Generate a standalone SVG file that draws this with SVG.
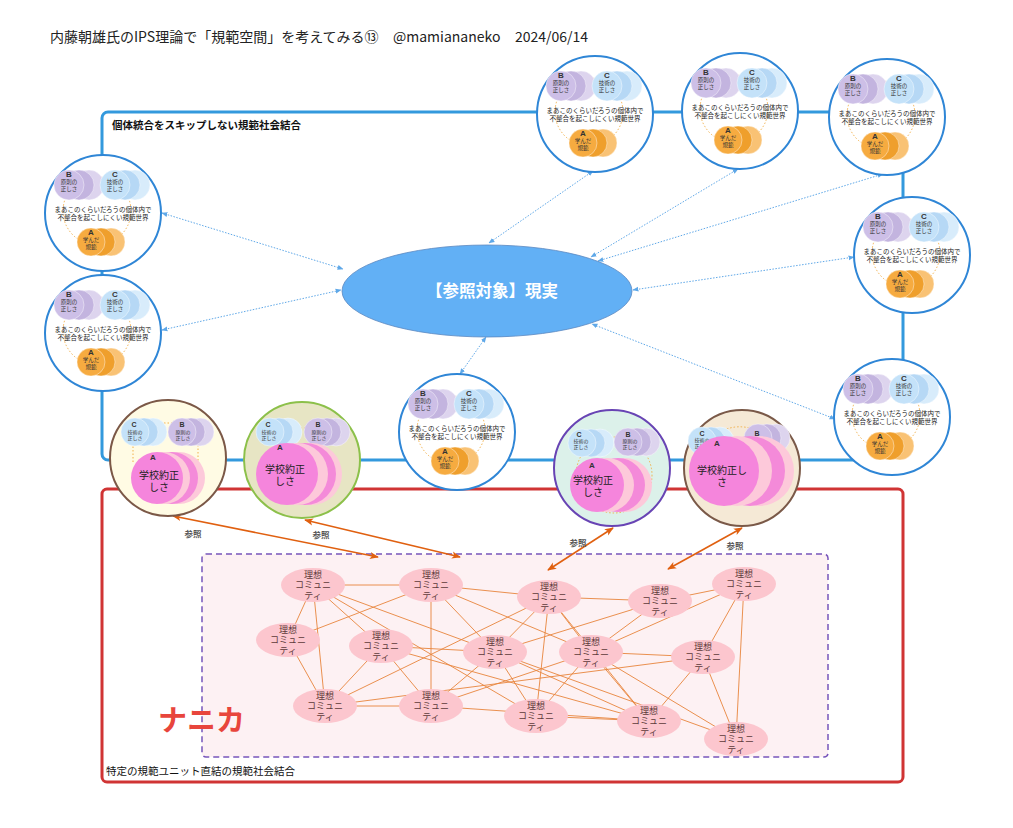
<svg xmlns="http://www.w3.org/2000/svg" width="1013" height="828" viewBox="0 0 1013 828">
<style>
text{font-family:"Liberation Sans","Noto Sans CJK JP",sans-serif}
.ttl{font-family:"Noto Sans CJK JP","Noto Sans",sans-serif;font-size:14px;fill:#222}
.nw{fill:#fff;stroke:#2f86d6;stroke-width:2}
.dot{fill:none;stroke:#f2b04a;stroke-width:1;stroke-dasharray:1.5 2}
.lab{font-size:8px;font-weight:bold;text-anchor:middle;fill:#333}
.sm{font-size:5.5px;text-anchor:middle;fill:#333}
.xs{font-size:5px;text-anchor:middle;fill:#333}
.l7{font-size:7px;font-weight:bold}
.mid{font-size:6.5px;text-anchor:middle;fill:#1a1a1a}
.stk circle{stroke:#fff;stroke-width:0.6;stroke-opacity:0.7}
.cm ellipse{fill:#fcc6ce}
.cm text{font-size:9px;text-anchor:middle;fill:#5d3a3a}
.edge line{stroke:#e8843c;stroke-width:0.9}
.ref{stroke:#e06010;stroke-width:1.6;fill:none;marker-start:url(#ao);marker-end:url(#ao)}
.bl{stroke:#5fa8e8;stroke-width:1;stroke-dasharray:1.5 1.5;fill:none;marker-start:url(#ab);marker-end:url(#ab)}
.sch{font-size:10px;text-anchor:middle;fill:#222}
.pk1{fill:#f585dc}.pk2{fill:#fdc9da}.pk3{fill:#f48ad9}
.cap{font-size:10.5px;fill:#111}
.sanshou{font-size:8.5px;font-weight:bold;text-anchor:middle;fill:#555}
</style>
<defs>
<marker id="ao" viewBox="0 0 10 10" refX="9" refY="5" markerUnits="userSpaceOnUse" markerWidth="9" markerHeight="9" orient="auto-start-reverse"><path d="M0,1 L10,5 L0,9 L2.5,5 z" fill="#e06010"/></marker>
<marker id="ab" viewBox="0 0 10 10" refX="9" refY="5" markerUnits="userSpaceOnUse" markerWidth="6" markerHeight="6" orient="auto-start-reverse"><path d="M0,1 L10,5 L0,9 z" fill="#5fa8e8"/></marker>
<g id="sB" class="stk"><circle cx="20" r="15" fill="#ddd4ee"/><circle cx="10" r="15" fill="#c3b4df"/><circle r="15" fill="#cdbfe7"/></g>
<g id="sC" class="stk"><circle cx="20" r="15" fill="#d8ecfb"/><circle cx="10" r="15" fill="#b6d8f5"/><circle r="15" fill="#c4e2f9"/></g>
<g id="sA" class="stk"><circle cx="20" r="14" fill="#f9c274"/><circle cx="10" r="14" fill="#ef9f2c"/><circle r="14" fill="#f6ab40"/></g>
<g id="sB2" class="stk"><circle cx="18" r="14" fill="#ddd4ee"/><circle cx="9" r="14" fill="#c3b4df"/><circle r="14" fill="#cdbfe7"/></g>
<g id="sC2" class="stk"><circle cx="18" r="14" fill="#d8ecfb"/><circle cx="9" r="14" fill="#b6d8f5"/><circle r="14" fill="#c4e2f9"/></g>
</defs>
<rect width="1013" height="828" fill="#fff"/>
<text class="ttl" x="50" y="42">内藤朝雄氏のIPS理論で「規範空間」を考えてみる⑬</text>
<text class="ttl" x="393" y="42">@mamiananeko</text>
<text class="ttl" x="515" y="42">2024/06/14</text>

<g id="frames">
<rect x="102" y="112" width="801" height="348" rx="6" fill="none" stroke="#3399dd" stroke-width="3"/>
<rect x="102" y="489" width="801" height="293" rx="5" fill="#fff" stroke="#d03434" stroke-width="3"/>
<rect x="202" y="554" width="626" height="203" rx="4" fill="#fdf1f3" stroke="#7755bb" stroke-width="1.5" stroke-dasharray="6 4"/>
<text class="cap" x="112" y="129" font-weight="bold">個体統合をスキップしない規範社会結合</text>
<text class="cap" x="106" y="775">特定の規範ユニット直結の規範社会結合</text>
<text x="158" y="731" font-size="29" font-weight="bold" fill="#e8453c">ナニカ</text>
</g>

<g id="connectors">
<g class="edge">
<line x1="313" y1="585" x2="431" y2="585"/><line x1="313" y1="585" x2="288" y2="640"/><line x1="313" y1="585" x2="325" y2="706"/>
<line x1="313" y1="585" x2="381" y2="646"/><line x1="313" y1="585" x2="495" y2="652"/><line x1="313" y1="585" x2="536" y2="716"/>
<line x1="431" y1="585" x2="288" y2="640"/><line x1="431" y1="585" x2="431" y2="706"/><line x1="431" y1="585" x2="495" y2="652"/>
<line x1="431" y1="585" x2="549" y2="597"/><line x1="431" y1="585" x2="591" y2="652"/>
<line x1="288" y1="640" x2="325" y2="706"/><line x1="381" y1="646" x2="325" y2="706"/><line x1="381" y1="646" x2="431" y2="706"/>
<line x1="381" y1="646" x2="495" y2="652"/><line x1="381" y1="646" x2="649" y2="721"/>
<line x1="325" y1="706" x2="431" y2="706"/><line x1="325" y1="706" x2="549" y2="597"/><line x1="325" y1="706" x2="703" y2="657"/>
<line x1="431" y1="706" x2="495" y2="652"/><line x1="431" y1="706" x2="591" y2="652"/><line x1="431" y1="706" x2="649" y2="721"/>
<line x1="549" y1="597" x2="660" y2="601"/><line x1="549" y1="597" x2="591" y2="652"/><line x1="549" y1="597" x2="649" y2="721"/>
<line x1="549" y1="597" x2="536" y2="716"/><line x1="549" y1="597" x2="495" y2="652"/>
<line x1="660" y1="601" x2="744" y2="584"/><line x1="660" y1="601" x2="495" y2="652"/><line x1="660" y1="601" x2="591" y2="652"/>
<line x1="744" y1="584" x2="703" y2="657"/><line x1="744" y1="584" x2="591" y2="652"/><line x1="744" y1="584" x2="736" y2="739"/>
<line x1="703" y1="657" x2="649" y2="721"/><line x1="703" y1="657" x2="736" y2="739"/><line x1="591" y1="652" x2="736" y2="739"/>
<line x1="591" y1="652" x2="703" y2="657"/><line x1="591" y1="652" x2="649" y2="721"/><line x1="591" y1="652" x2="536" y2="716"/>
<line x1="536" y1="716" x2="649" y2="721"/><line x1="495" y1="652" x2="649" y2="721"/><line x1="495" y1="652" x2="736" y2="739"/>
<line x1="495" y1="652" x2="536" y2="716"/>
</g>
<line class="ref" x1="173" y1="516" x2="378" y2="557"/>
<line class="ref" x1="305" y1="520" x2="460" y2="557"/>
<line class="ref" x1="613" y1="528" x2="548" y2="570"/>
<line class="ref" x1="742" y1="528" x2="668" y2="569"/>
<line class="bl" x1="593" y1="171" x2="489" y2="243"/>
<line class="bl" x1="738" y1="169" x2="591" y2="257"/>
<line class="bl" x1="883" y1="174" x2="598" y2="261"/>
<line class="bl" x1="162" y1="213" x2="343" y2="269"/>
<line class="bl" x1="162" y1="330" x2="341" y2="290"/>
<line class="bl" x1="854" y1="257" x2="633" y2="290"/>
<line class="bl" x1="460" y1="374" x2="486" y2="337"/>
<line class="bl" x1="835" y1="419" x2="592" y2="324"/>
<text class="sanshou" x="193" y="537">参照</text>
<text class="sanshou" x="321" y="538">参照</text>
<text class="sanshou" x="578" y="546">参照</text>
<text class="sanshou" x="735" y="549">参照</text>
</g>

<g id="reality">
<ellipse cx="487" cy="291" rx="145" ry="46" fill="#62b0f5" stroke="#5a88c0" stroke-width="0.8"/>
<text x="492" y="297" font-size="16.5" font-weight="bold" fill="#fff" text-anchor="middle">【参照対象】現実</text>
</g>

<g id="nw1" transform="translate(595,114)"><circle r="58" class="nw"/><circle cx="-6" cy="-2" r="34" class="dot"/><use href="#sB" x="-34" y="-28"/><use href="#sC" x="12" y="-28"/><use href="#sA" x="-12" y="29"/><text class="sm"><tspan class="lab" x="-34" y="-36">B</tspan><tspan x="-34" y="-29">原則の</tspan><tspan x="-34" y="-22.5">正しさ</tspan></text><text class="sm"><tspan class="lab" x="12" y="-36">C</tspan><tspan x="12" y="-29">技術の</tspan><tspan x="12" y="-22.5">正しさ</tspan></text><text class="mid"><tspan x="0" y="-1">まあこのくらいだろうの個体内で</tspan><tspan x="0" y="7">不整合を起こしにくい規範世界</tspan></text><text class="sm"><tspan class="lab" x="-12" y="22">A</tspan><tspan x="-12" y="29">学んだ</tspan><tspan x="-12" y="35.5">規範</tspan></text></g>
<g id="nw2" transform="translate(740,111)"><circle r="58" class="nw"/><circle cx="-6" cy="-2" r="34" class="dot"/><use href="#sB" x="-34" y="-28"/><use href="#sC" x="12" y="-28"/><use href="#sA" x="-12" y="29"/><text class="sm"><tspan class="lab" x="-34" y="-36">B</tspan><tspan x="-34" y="-29">原則の</tspan><tspan x="-34" y="-22.5">正しさ</tspan></text><text class="sm"><tspan class="lab" x="12" y="-36">C</tspan><tspan x="12" y="-29">技術の</tspan><tspan x="12" y="-22.5">正しさ</tspan></text><text class="mid"><tspan x="0" y="-1">まあこのくらいだろうの個体内で</tspan><tspan x="0" y="7">不整合を起こしにくい規範世界</tspan></text><text class="sm"><tspan class="lab" x="-12" y="22">A</tspan><tspan x="-12" y="29">学んだ</tspan><tspan x="-12" y="35.5">規範</tspan></text></g>
<g id="nw3" transform="translate(887,117)"><circle r="58" class="nw"/><circle cx="-6" cy="-2" r="34" class="dot"/><use href="#sB" x="-34" y="-28"/><use href="#sC" x="12" y="-28"/><use href="#sA" x="-12" y="29"/><text class="sm"><tspan class="lab" x="-34" y="-36">B</tspan><tspan x="-34" y="-29">原則の</tspan><tspan x="-34" y="-22.5">正しさ</tspan></text><text class="sm"><tspan class="lab" x="12" y="-36">C</tspan><tspan x="12" y="-29">技術の</tspan><tspan x="12" y="-22.5">正しさ</tspan></text><text class="mid"><tspan x="0" y="-1">まあこのくらいだろうの個体内で</tspan><tspan x="0" y="7">不整合を起こしにくい規範世界</tspan></text><text class="sm"><tspan class="lab" x="-12" y="22">A</tspan><tspan x="-12" y="29">学んだ</tspan><tspan x="-12" y="35.5">規範</tspan></text></g>
<g id="nw4" transform="translate(103,213)"><circle r="58" class="nw"/><circle cx="-6" cy="-2" r="34" class="dot"/><use href="#sB" x="-34" y="-28"/><use href="#sC" x="12" y="-28"/><use href="#sA" x="-12" y="29"/><text class="sm"><tspan class="lab" x="-34" y="-36">B</tspan><tspan x="-34" y="-29">原則の</tspan><tspan x="-34" y="-22.5">正しさ</tspan></text><text class="sm"><tspan class="lab" x="12" y="-36">C</tspan><tspan x="12" y="-29">技術の</tspan><tspan x="12" y="-22.5">正しさ</tspan></text><text class="mid"><tspan x="0" y="-1">まあこのくらいだろうの個体内で</tspan><tspan x="0" y="7">不整合を起こしにくい規範世界</tspan></text><text class="sm"><tspan class="lab" x="-12" y="22">A</tspan><tspan x="-12" y="29">学んだ</tspan><tspan x="-12" y="35.5">規範</tspan></text></g>
<g id="nw5" transform="translate(103,333)"><circle r="58" class="nw"/><circle cx="-6" cy="-2" r="34" class="dot"/><use href="#sB" x="-34" y="-28"/><use href="#sC" x="12" y="-28"/><use href="#sA" x="-12" y="29"/><text class="sm"><tspan class="lab" x="-34" y="-36">B</tspan><tspan x="-34" y="-29">原則の</tspan><tspan x="-34" y="-22.5">正しさ</tspan></text><text class="sm"><tspan class="lab" x="12" y="-36">C</tspan><tspan x="12" y="-29">技術の</tspan><tspan x="12" y="-22.5">正しさ</tspan></text><text class="mid"><tspan x="0" y="-1">まあこのくらいだろうの個体内で</tspan><tspan x="0" y="7">不整合を起こしにくい規範世界</tspan></text><text class="sm"><tspan class="lab" x="-12" y="22">A</tspan><tspan x="-12" y="29">学んだ</tspan><tspan x="-12" y="35.5">規範</tspan></text></g>
<g id="nw6" transform="translate(912,255)"><circle r="58" class="nw"/><circle cx="-6" cy="-2" r="34" class="dot"/><use href="#sB" x="-34" y="-28"/><use href="#sC" x="12" y="-28"/><use href="#sA" x="-12" y="29"/><text class="sm"><tspan class="lab" x="-34" y="-36">B</tspan><tspan x="-34" y="-29">原則の</tspan><tspan x="-34" y="-22.5">正しさ</tspan></text><text class="sm"><tspan class="lab" x="12" y="-36">C</tspan><tspan x="12" y="-29">技術の</tspan><tspan x="12" y="-22.5">正しさ</tspan></text><text class="mid"><tspan x="0" y="-1">まあこのくらいだろうの個体内で</tspan><tspan x="0" y="7">不整合を起こしにくい規範世界</tspan></text><text class="sm"><tspan class="lab" x="-12" y="22">A</tspan><tspan x="-12" y="29">学んだ</tspan><tspan x="-12" y="35.5">規範</tspan></text></g>
<g id="nw7" transform="translate(457,432)"><circle r="58" class="nw"/><circle cx="-6" cy="-2" r="34" class="dot"/><use href="#sB" x="-34" y="-28"/><use href="#sC" x="12" y="-28"/><use href="#sA" x="-12" y="29"/><text class="sm"><tspan class="lab" x="-34" y="-36">B</tspan><tspan x="-34" y="-29">原則の</tspan><tspan x="-34" y="-22.5">正しさ</tspan></text><text class="sm"><tspan class="lab" x="12" y="-36">C</tspan><tspan x="12" y="-29">技術の</tspan><tspan x="12" y="-22.5">正しさ</tspan></text><text class="mid"><tspan x="0" y="-1">まあこのくらいだろうの個体内で</tspan><tspan x="0" y="7">不整合を起こしにくい規範世界</tspan></text><text class="sm"><tspan class="lab" x="-12" y="22">A</tspan><tspan x="-12" y="29">学んだ</tspan><tspan x="-12" y="35.5">規範</tspan></text></g>
<g id="nw8" transform="translate(892,417)"><circle r="58" class="nw"/><circle cx="-6" cy="-2" r="34" class="dot"/><use href="#sB" x="-34" y="-28"/><use href="#sC" x="12" y="-28"/><use href="#sA" x="-12" y="29"/><text class="sm"><tspan class="lab" x="-34" y="-36">B</tspan><tspan x="-34" y="-29">原則の</tspan><tspan x="-34" y="-22.5">正しさ</tspan></text><text class="sm"><tspan class="lab" x="12" y="-36">C</tspan><tspan x="12" y="-29">技術の</tspan><tspan x="12" y="-22.5">正しさ</tspan></text><text class="mid"><tspan x="0" y="-1">まあこのくらいだろうの個体内で</tspan><tspan x="0" y="7">不整合を起こしにくい規範世界</tspan></text><text class="sm"><tspan class="lab" x="-12" y="22">A</tspan><tspan x="-12" y="29">学んだ</tspan><tspan x="-12" y="35.5">規範</tspan></text></g>

<g id="school1">
<circle cx="168" cy="458" r="58" fill="#fffbe4" stroke="#7b5847" stroke-width="2"/>
<path d="M133,462 V423 H198 V462" class="dot"/>
<use href="#sC2" x="135" y="432"/><use href="#sB2" x="182" y="432"/>
<text class="xs"><tspan class="lab l7" x="134" y="427">C</tspan><tspan x="135" y="434">技術の</tspan><tspan x="135" y="440">正しさ</tspan></text>
<text class="xs"><tspan class="lab l7" x="182" y="427">B</tspan><tspan x="183" y="434">原則の</tspan><tspan x="183" y="440">正しさ</tspan></text>
<circle cx="179" cy="478" r="26" class="pk2"/><circle cx="172" cy="478" r="26" class="pk3"/><circle cx="164" cy="478" r="26" class="pk2"/><circle cx="157" cy="478" r="26" class="pk1"/>
<text class="lab" x="153" y="460">A</text>
<text class="sch"><tspan x="159" y="479">学校約正</tspan><tspan x="159" y="490.5">しさ</tspan></text>
</g>
<g id="school2">
<circle cx="302" cy="460" r="58" fill="#e7e5c4" stroke="#8cc04a" stroke-width="2"/>
<path d="M283,428 H306" class="dot"/>
<use href="#sC2" x="270" y="432"/><use href="#sB2" x="318" y="432"/>
<text class="xs"><tspan class="lab l7" x="268" y="427">C</tspan><tspan x="269" y="434">技術の</tspan><tspan x="269" y="440">正しさ</tspan></text>
<text class="xs"><tspan class="lab l7" x="318" y="427">B</tspan><tspan x="319" y="434">原則の</tspan><tspan x="319" y="440">正しさ</tspan></text>
<circle cx="311" cy="474" r="31" class="pk2"/><circle cx="305" cy="474" r="31" class="pk3"/><circle cx="297" cy="474" r="31" class="pk2"/><circle cx="287" cy="474" r="31" class="pk1"/>
<text class="lab" x="280" y="450">A</text>
<text class="sch" font-size="10.5"><tspan x="285" y="473">学校約正</tspan><tspan x="285" y="485">しさ</tspan></text>
</g>
<g id="school3">
<circle cx="612" cy="468" r="58" fill="#dcf1ea" stroke="#6844b4" stroke-width="2"/>
<circle cx="614" cy="475" r="38" class="dot"/>
<use href="#sC2" x="582" y="443"/><use href="#sB2" x="628" y="442"/>
<text class="xs"><tspan class="lab l7" x="579" y="437">C</tspan><tspan x="581" y="443">技術の</tspan><tspan x="581" y="449">正しさ</tspan></text>
<text class="xs"><tspan class="lab l7" x="628" y="437">B</tspan><tspan x="630" y="443">原則の</tspan><tspan x="630" y="449">正しさ</tspan></text>
<circle cx="625" cy="485" r="27" class="pk2"/><circle cx="618" cy="485" r="27" class="pk3"/><circle cx="607" cy="485" r="27" class="pk2"/><circle cx="597" cy="485" r="27" class="pk1"/>
<text class="lab" x="592" y="468">A</text>
<text class="sch"><tspan x="593" y="484">学校約正</tspan><tspan x="593" y="495.5">しさ</tspan></text>
</g>
<g id="school4">
<circle cx="742" cy="468" r="58" fill="#f5e9d6" stroke="#7a5948" stroke-width="2"/>
<path d="M712,438 A 40 40 0 0 1 778,455" class="dot"/>
<use href="#sC2" x="702" y="441"/><use href="#sB2" x="758" y="438"/>
<text class="xs"><tspan class="lab l7" x="702" y="436">C</tspan><tspan x="702" y="442">技術の</tspan><tspan x="702" y="448">正しさ</tspan></text>
<text class="lab l7" x="757" y="436">B</text>
<circle cx="759" cy="471" r="35" class="pk2"/><circle cx="750" cy="471" r="35" class="pk3"/><circle cx="737" cy="471" r="35" class="pk2"/><circle cx="724" cy="471" r="35" class="pk1"/>
<text class="lab" x="717" y="446">A</text>
<text class="sch" font-size="10.5"><tspan x="722" y="474">学校約正し</tspan><tspan x="722" y="486">さ</tspan></text>
</g>

<g class="cm">
<g id="c1"><ellipse cx="313" cy="585" rx="32" ry="17"/><text><tspan x="313" y="577.5">理想</tspan><tspan x="313" y="588">コミュニ</tspan><tspan x="313" y="598.5">ティ</tspan></text></g>
<g id="c2"><ellipse cx="431" cy="585" rx="32" ry="17"/><text><tspan x="431" y="577.5">理想</tspan><tspan x="431" y="588">コミュニ</tspan><tspan x="431" y="598.5">ティ</tspan></text></g>
<g id="c3"><ellipse cx="549" cy="597" rx="32" ry="17"/><text><tspan x="549" y="589.5">理想</tspan><tspan x="549" y="600">コミュニ</tspan><tspan x="549" y="610.5">ティ</tspan></text></g>
<g id="c4"><ellipse cx="660" cy="601" rx="32" ry="17"/><text><tspan x="660" y="593.5">理想</tspan><tspan x="660" y="604">コミュニ</tspan><tspan x="660" y="614.5">ティ</tspan></text></g>
<g id="c5"><ellipse cx="744" cy="584" rx="32" ry="17"/><text><tspan x="744" y="576.5">理想</tspan><tspan x="744" y="587">コミュニ</tspan><tspan x="744" y="597.5">ティ</tspan></text></g>
<g id="c6"><ellipse cx="288" cy="640" rx="32" ry="17"/><text><tspan x="288" y="632.5">理想</tspan><tspan x="288" y="643">コミュニ</tspan><tspan x="288" y="653.5">ティ</tspan></text></g>
<g id="c7"><ellipse cx="381" cy="646" rx="32" ry="17"/><text><tspan x="381" y="638.5">理想</tspan><tspan x="381" y="649">コミュニ</tspan><tspan x="381" y="659.5">ティ</tspan></text></g>
<g id="c8"><ellipse cx="495" cy="652" rx="32" ry="17"/><text><tspan x="495" y="644.5">理想</tspan><tspan x="495" y="655">コミュニ</tspan><tspan x="495" y="665.5">ティ</tspan></text></g>
<g id="c9"><ellipse cx="591" cy="652" rx="32" ry="17"/><text><tspan x="591" y="644.5">理想</tspan><tspan x="591" y="655">コミュニ</tspan><tspan x="591" y="665.5">ティ</tspan></text></g>
<g id="c10"><ellipse cx="703" cy="657" rx="32" ry="17"/><text><tspan x="703" y="649.5">理想</tspan><tspan x="703" y="660">コミュニ</tspan><tspan x="703" y="670.5">ティ</tspan></text></g>
<g id="c11"><ellipse cx="325" cy="706" rx="32" ry="17"/><text><tspan x="325" y="698.5">理想</tspan><tspan x="325" y="709">コミュニ</tspan><tspan x="325" y="719.5">ティ</tspan></text></g>
<g id="c12"><ellipse cx="431" cy="706" rx="32" ry="17"/><text><tspan x="431" y="698.5">理想</tspan><tspan x="431" y="709">コミュニ</tspan><tspan x="431" y="719.5">ティ</tspan></text></g>
<g id="c13"><ellipse cx="536" cy="716" rx="32" ry="17"/><text><tspan x="536" y="708.5">理想</tspan><tspan x="536" y="719">コミュニ</tspan><tspan x="536" y="729.5">ティ</tspan></text></g>
<g id="c14"><ellipse cx="649" cy="721" rx="32" ry="17"/><text><tspan x="649" y="713.5">理想</tspan><tspan x="649" y="724">コミュニ</tspan><tspan x="649" y="734.5">ティ</tspan></text></g>
<g id="c15"><ellipse cx="736" cy="739" rx="32" ry="17"/><text><tspan x="736" y="731.5">理想</tspan><tspan x="736" y="742">コミュニ</tspan><tspan x="736" y="752.5">ティ</tspan></text></g>
</g>
</svg>
